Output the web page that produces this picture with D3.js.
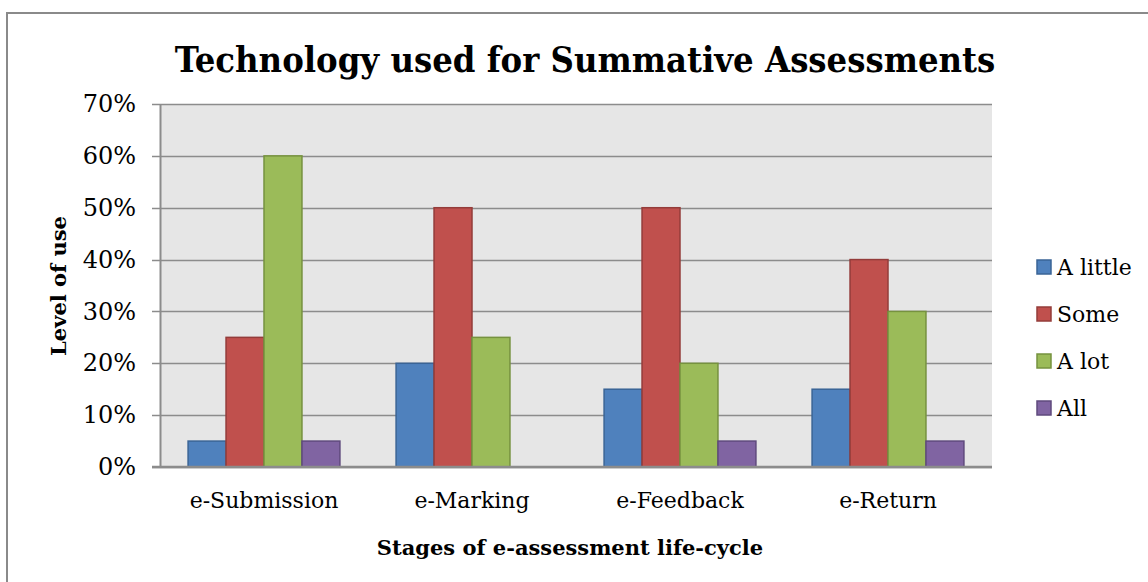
<!DOCTYPE html>
<html>
<head>
<meta charset="utf-8">
<script src="https://cdn.jsdelivr.net/npm/d3@7"></script>
<style>
	body { margin: 0; background: #fff; }
	svg { display: block; }
	text { font-family: "DejaVu Serif", serif; fill: #000; }
</style>
</head>
<body>
<svg width="1148" height="582"></svg>
<script>
var categories = ["e-Submission", "e-Marking", "e-Feedback", "e-Return"];
var seriesNames = ["A little", "Some", "A lot", "All"];
var aLittle = [0.05, 0.20, 0.15, 0.15];
var some = [0.25, 0.50, 0.50, 0.40];
var aLot = [0.60, 0.25, 0.20, 0.30];
var all = [0.05, 0, 0.05, 0.05];
var yTicks = [0, 0.1, 0.2, 0.3, 0.4, 0.5, 0.6, 0.7];

var fills = ["#4f81bd", "#c0504d", "#9bbb59", "#8064a2"];
var strokes = ["#3a6496", "#943c3a", "#76923f", "#5f4a7d"];
var seriesValues = [aLittle, some, aLot, all];

var svg = d3.select("svg");

// outer chart border (only top / left visible)
svg.append("rect")
	.attr("x", 7).attr("y", 13)
	.attr("width", 1160).attr("height", 600)
	.attr("fill", "none")
	.attr("stroke", "#8a8a8a")
	.attr("stroke-width", 2);

var margin = { top: 104, left: 160 },
	width = 832,
	height = 363;

var x0 = d3.scaleBand().domain(categories).range([0, width]).paddingInner(0.27).paddingOuter(0.135);
var x1 = d3.scaleBand().domain(seriesNames).range([0, x0.bandwidth()]);
var y = d3.scaleLinear().domain([0, 0.7]).range([height, 0]);

var g = svg.append("g")
	.attr("transform", "translate(" + margin.left + "," + margin.top + ")");

g.append("rect")
	.attr("width", width).attr("height", height)
	.attr("fill", "#e6e6e6");

// gridlines
g.selectAll(".grid")
	.data(yTicks)
	.enter().append("line")
	.attr("x1", -8).attr("x2", width)
	.attr("y1", function(d) { return Math.round(y(d)) + 0.5; })
	.attr("y2", function(d) { return Math.round(y(d)) + 0.5; })
	.attr("stroke", "#8c8c8c")
	.attr("stroke-width", 1.5);

// y axis labels
var yAxis = g.append("g")
	.call(d3.axisLeft(y).tickValues(yTicks).tickFormat(d3.format(".0%")).tickSize(0).tickPadding(24));
yAxis.select(".domain").remove();
yAxis.selectAll("text")
	.attr("font-family", "DejaVu Serif, serif")
	.attr("font-size", "24px")
	.attr("fill", "#000");

// bars
var groups = g.selectAll(".cat")
	.data(categories)
	.enter().append("g")
	.attr("transform", function(c) { return "translate(" + x0(c) + ",0)"; });

groups.selectAll("rect")
	.data(function(c, i) {
		return seriesNames.map(function(s, j) {
			return { series: s, idx: j, value: seriesValues[j][i] };
		});
	})
	.enter().append("rect")
	.filter(function(d) { return d.value > 0; })
	.attr("x", function(d) { return x1(d.series); })
	.attr("y", function(d) { return y(d.value); })
	.attr("width", x1.bandwidth())
	.attr("height", function(d) { return height - y(d.value); })
	.attr("fill", function(d) { return fills[d.idx]; })
	.attr("stroke", function(d) { return strokes[d.idx]; })
	.attr("stroke-width", 1.5);

// axis lines
g.append("line")
	.attr("x1", 0.5).attr("x2", 0.5)
	.attr("y1", 0).attr("y2", height)
	.attr("stroke", "#8c8c8c").attr("stroke-width", 2);
g.append("line")
	.attr("x1", -8).attr("x2", width)
	.attr("y1", height).attr("y2", height)
	.attr("stroke", "#8c8c8c").attr("stroke-width", 2.5);

// x axis labels
var xAxis = g.append("g")
	.attr("transform", "translate(0," + height + ")")
	.call(d3.axisBottom(x0).tickSize(0).tickPadding(25));
xAxis.select(".domain").remove();
xAxis.selectAll("text")
	.attr("font-family", "DejaVu Serif, serif")
	.attr("font-size", "22px")
	.attr("fill", "#000");

// title
svg.append("text")
	.attr("x", 585).attr("y", 72)
	.attr("text-anchor", "middle")
	.attr("font-family", "'DejaVu Serif Condensed', 'DejaVu Serif', serif")
	.attr("font-stretch", "condensed")
	.attr("font-size", "36px")
	.attr("font-weight", "bold")
	.text("Technology used for Summative Assessments");

// axis titles
svg.append("text")
	.attr("x", 570).attr("y", 555)
	.attr("text-anchor", "middle")
	.attr("font-size", "21px")
	.attr("font-weight", "bold")
	.text("Stages of e-assessment life-cycle");

svg.append("text")
	.attr("transform", "translate(66,286) rotate(-90)")
	.attr("text-anchor", "middle")
	.attr("font-size", "21px")
	.attr("font-weight", "bold")
	.text("Level of use");

// legend
var legend = svg.selectAll(".legend")
	.data(seriesNames)
	.enter().append("g")
	.attr("transform", function(d, i) { return "translate(1037," + (260 + i * 47) + ")"; });

legend.append("rect")
	.attr("width", 14).attr("height", 14)
	.attr("fill", function(d, i) { return fills[i]; })
	.attr("stroke", function(d, i) { return strokes[i]; })
	.attr("stroke-width", 1.5);

legend.append("text")
	.attr("x", 20).attr("y", 15)
	.attr("font-size", "22px")
	.text(function(d) { return d; });
</script>
</body>
</html>
